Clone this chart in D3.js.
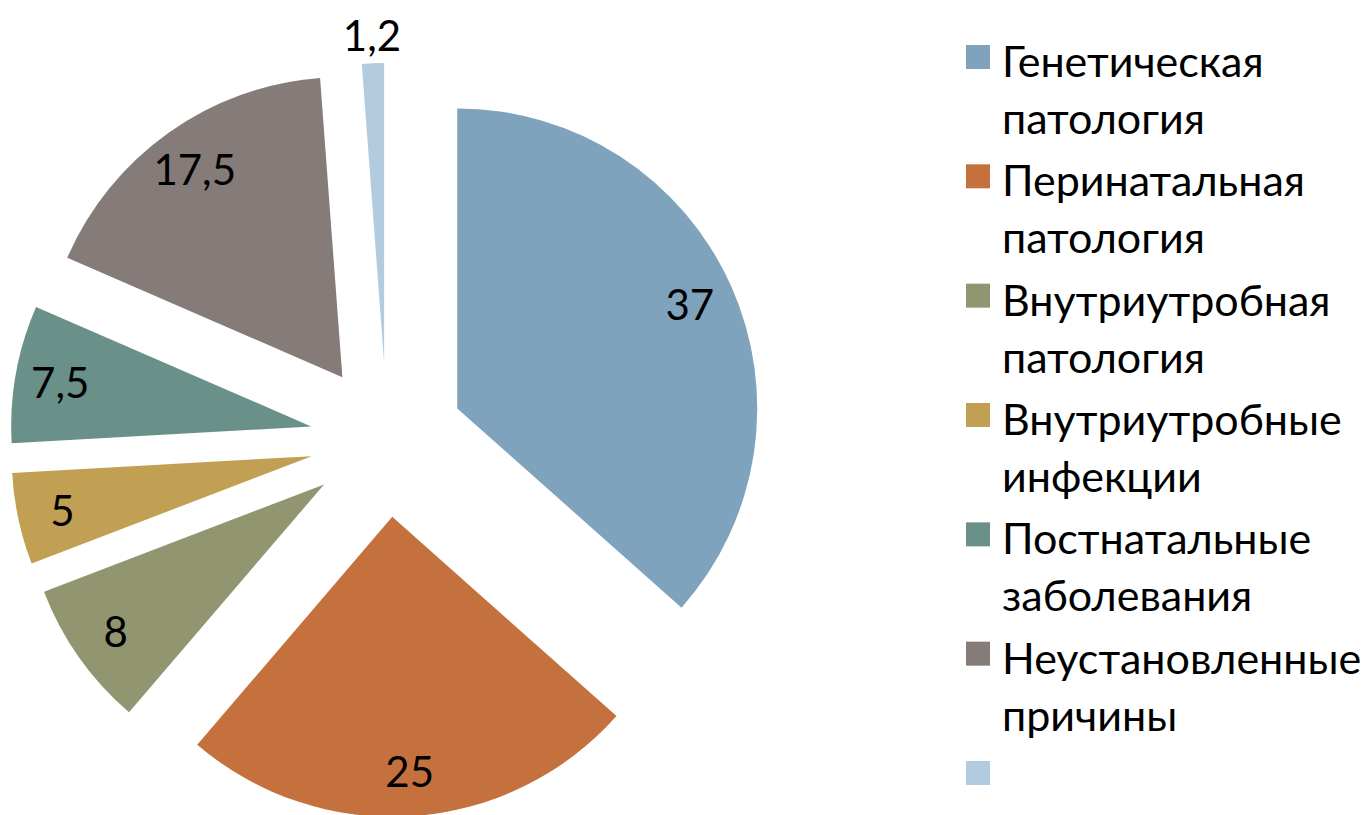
<html>
<head>
<meta charset="utf-8">
<script src="https://d3js.org/d3.v7.min.js"></script>
<style>
  body { margin: 0; background: #fff; }
  .lbl { font-family: Lato, sans-serif; font-size: 42px; fill: #000; }
  .leg { font-family: Lato, "Open Sans", sans-serif; font-size: 43px; fill: #000; }
</style>
</head>
<body>
<div id="viz"></div>
<script>
  // data
  const categories = ["Генетическая патология", "Перинатальная патология", "Внутриутробная патология",
                      "Внутриутробные инфекции", "Постнатальные заболевания", "Неустановленные причины", ""];
  const values = [37, 25, 8, 5, 7.5, 17.5, 1.2];
  const valueLabels = ["37", "25", "8", "5", "7,5", "17,5", "1,2"];
  const colors = ["#7fa3bd", "#c5713e", "#929670", "#c19f53", "#6a9189", "#857b79", "#b3cbdf"];

  const width = 1369, height = 815;
  const cx = 387, cy = 440, radius = 300, explode = 77;

  const svg = d3.select("#viz").append("svg").attr("width", width).attr("height", height);

  const pie = d3.pie().sort(null).value(d => d.value);
  const arcs = pie(values.map((v, i) => ({ value: v, i: i })));
  const arc = d3.arc().innerRadius(0).outerRadius(radius);

  const g = svg.append("g").attr("transform", `translate(${cx}, ${cy})`);

  const slice = g.selectAll(".slice").data(arcs).join("g")
      .attr("class", "slice")
      .attr("transform", d => {
          let a = (d.startAngle + d.endAngle) / 2;
          return `translate(${Math.sin(a) * explode}, ${-Math.cos(a) * explode})`;
      });

  slice.append("path")
      .attr("d", arc)
      .attr("fill", (d, i) => colors[i]);

  slice.append("text")
      .attr("class", "lbl")
      .attr("text-anchor", "middle")
      .attr("dominant-baseline", "central")
      .attr("x", d => {
          let a = (d.startAngle + d.endAngle) / 2;
          let r = d.value < 2 ? radius + 28 : radius * 0.85;
          return Math.sin(a) * r;
      })
      .attr("y", d => {
          let a = (d.startAngle + d.endAngle) / 2;
          let r = d.value < 2 ? radius + 28 : radius * 0.85;
          return -Math.cos(a) * r;
      })
      .text((d, i) => valueLabels[i]);

  // legend
  const legY = d3.scalePoint().domain(d3.range(categories.length)).range([77, 793]);
  const legend = svg.append("g").selectAll(".item").data(categories).join("g")
      .attr("class", "item")
      .attr("transform", (d, i) => `translate(966, ${legY(i)})`);

  legend.append("rect")
      .attr("x", 0).attr("y", -32)
      .attr("width", 24).attr("height", 24)
      .attr("fill", (d, i) => colors[i]);

  legend.append("text")
      .attr("class", "leg")
      .attr("x", 36)
      .selectAll("tspan").data(d => d ? d.split(" ") : []).join("tspan")
      .attr("x", 36)
      .attr("dy", (d, j) => j === 0 ? 0 : 57)
      .text(d => d);
</script>
</body>
</html>
